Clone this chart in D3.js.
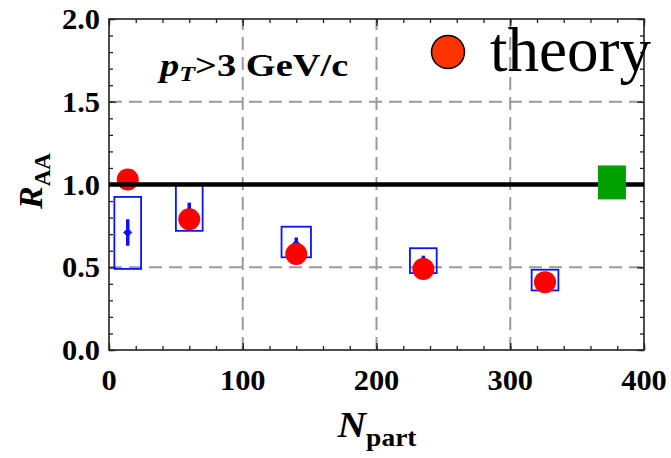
<!DOCTYPE html>
<html>
<head>
<meta charset="utf-8">
<script src="https://cdn.jsdelivr.net/npm/d3@7"></script>
<style>
  html, body { margin: 0; padding: 0; background: #fff; }
  svg { display: block; }
  text { font-family: "Liberation Serif", "Times New Roman", serif; }
</style>
</head>
<body>
<svg id="chart" width="671" height="458"></svg>
<script>
// Theory curve points (red circles)
const theoryNpart = [14, 60, 140, 235, 326];
const theoryRaa   = [1.03, 0.79, 0.58, 0.49, 0.41];

// Measured points: central value, statistical error
const dataNpart = [14, 60, 140, 235, 326];
const dataRaa   = [0.71, 0.84, 0.64, 0.54, 0.42];
const dataStat  = [0.08, 0.05, 0.04, 0.03, 0.03];

// Systematic boxes: Npart uncertainty and RAA range
const sysNpartErr = [10, 10, 11, 10, 10];
const sysLow  = [0.49, 0.72, 0.56, 0.465, 0.36];
const sysHigh = [0.925, 1.0, 0.745, 0.615, 0.485];

// Global normalisation uncertainty (green box)
const normNpart = [365.5, 386.5];
const normRaa   = [0.91, 1.115];

// Axis ticks
const xMajorTicks = [0, 100, 200, 300, 400];
const xTickLabels = ["0", "100", "200", "300", "400"];
const yMajorTicks = [0, 0.5, 1.0, 1.5, 2.0];
const yTickLabels = ["0.0", "0.5", "1.0", "1.5", "2.0"];
const xMinorTicks = d3.range(0, 401, 20);
const yMinorTicks = d3.range(0, 21, 1).map(d => d / 10);

const svg = d3.select("#chart");
const L = 109, R = 644, T = 19, B = 350;

const x = d3.scaleLinear().domain([0, 400]).range([L, R]);
const y = d3.scaleLinear().domain([0, 2]).range([B, T]);

// dashed grid
const grid = svg.append("g").attr("stroke", "#9a9a9a").attr("stroke-width", 2)
  .attr("stroke-dasharray", "13,7").attr("fill", "none");
grid.selectAll("line.v").data([100, 200, 300]).join("line")
  .attr("x1", d => x(d)).attr("x2", d => x(d)).attr("y1", y(0)).attr("y2", y(2));
grid.selectAll("line.h").data([0.5, 1.5]).join("line")
  .attr("y1", d => y(d)).attr("y2", d => y(d)).attr("x1", x(0)).attr("x2", x(400));

// ticks on all four sides, pointing inward
function ticks(axisFn, values, size, transform) {
  const g = svg.append("g").attr("transform", transform)
    .call(axisFn.tickValues(values).tickSize(-size).tickFormat(""));
  g.select(".domain").remove();
  g.selectAll(".tick line").attr("stroke", "#222").attr("stroke-width", 1.3);
  return g;
}
ticks(d3.axisBottom(x), xMinorTicks, 4, `translate(0,${B})`);
ticks(d3.axisBottom(x), xMajorTicks, 7, `translate(0,${B})`);
ticks(d3.axisTop(x), xMinorTicks, 4, `translate(0,${T})`);
ticks(d3.axisTop(x), xMajorTicks, 7, `translate(0,${T})`);
ticks(d3.axisLeft(y), yMinorTicks, 4, `translate(${L},0)`);
ticks(d3.axisLeft(y), yMajorTicks, 7, `translate(${L},0)`);
ticks(d3.axisRight(y), yMinorTicks, 4, `translate(${R},0)`);
ticks(d3.axisRight(y), yMajorTicks, 7, `translate(${R},0)`);

// frame
svg.append("rect").attr("x", L).attr("y", T).attr("width", R - L).attr("height", B - T)
  .attr("fill", "none").attr("stroke", "#222").attr("stroke-width", 1.6);

// tick labels
const sx = 1.05;
svg.append("g").selectAll("text").data(xMajorTicks).join("text")
  .attr("transform", d => `translate(${x(d)},390) scale(${sx},1)`)
  .attr("text-anchor", "middle").attr("font-weight", "bold").attr("font-size", 29)
  .text((d, i) => xTickLabels[i]);
svg.append("g").selectAll("text").data(yMajorTicks).join("text")
  .attr("transform", d => `translate(100,${y(d) + 10}) scale(${sx},1)`)
  .attr("text-anchor", "end").attr("font-weight", "bold").attr("font-size", 29)
  .text((d, i) => yTickLabels[i]);

// axis titles
const xt = svg.append("text").attr("transform", "translate(377,437) scale(1.1,1)")
  .attr("text-anchor", "middle").attr("font-weight", "bold").attr("font-size", 36);
xt.append("tspan").attr("font-style", "italic").text("N");
xt.append("tspan").attr("font-size", 25).attr("dy", 9).text("part");

const yt = svg.append("text").attr("transform", "translate(42,181) rotate(-90)")
  .attr("text-anchor", "middle").attr("font-weight", "bold").attr("font-size", 34);
yt.append("tspan").attr("font-style", "italic").text("R");
yt.append("tspan").attr("font-size", 23).attr("dy", 8).text("AA");

// systematic boxes
svg.append("g").selectAll("rect").data(dataNpart).join("rect")
  .attr("x", (d, i) => x(d - sysNpartErr[i]))
  .attr("width", (d, i) => x(d + sysNpartErr[i]) - x(d - sysNpartErr[i]))
  .attr("y", (d, i) => y(sysHigh[i]))
  .attr("height", (d, i) => y(sysLow[i]) - y(sysHigh[i]))
  .attr("fill", "none").attr("stroke", "#0a14ff").attr("stroke-width", 1.8);

// statistical error bars and markers
const pts = svg.append("g").attr("fill", "#0a14ff").attr("stroke", "#0a14ff");
pts.selectAll("line").data(dataNpart).join("line")
  .attr("x1", d => x(d)).attr("x2", d => x(d))
  .attr("y1", (d, i) => y(dataRaa[i] + dataStat[i]))
  .attr("y2", (d, i) => y(dataRaa[i] - dataStat[i]))
  .attr("stroke-width", 3.5);
pts.selectAll("path").data(dataNpart).join("path")
  .attr("d", (d, i) => {
    const cx = x(d), cy = y(dataRaa[i]);
    return `M${cx - 4},${cy} L${cx},${cy - 4} L${cx + 4},${cy} L${cx},${cy + 4} Z`;
  })
  .attr("stroke-width", 1);

// theory points
svg.append("g").selectAll("circle").data(theoryNpart).join("circle")
  .attr("cx", d => x(d)).attr("cy", (d, i) => y(theoryRaa[i])).attr("r", 11)
  .attr("fill", "#ff0000");

// unity line
svg.append("line").attr("x1", x(0)).attr("x2", x(400)).attr("y1", y(1)).attr("y2", y(1))
  .attr("stroke", "#000").attr("stroke-width", 4.5);

// normalisation uncertainty
svg.append("rect").attr("x", x(normNpart[0])).attr("width", x(normNpart[1]) - x(normNpart[0]))
  .attr("y", y(normRaa[1])).attr("height", y(normRaa[0]) - y(normRaa[1]))
  .attr("fill", "#00a000");

// kinematic cut label
const pt = svg.append("text").attr("transform", "translate(160,76) scale(1.24,1)")
  .attr("font-weight", "bold").attr("font-size", 31);
pt.append("tspan").attr("font-style", "italic").text("p");
pt.append("tspan").attr("font-style", "italic").attr("font-size", 21).attr("dy", 5).text("T");
pt.append("tspan").attr("dy", -5).text(">3 GeV/c");

// legend
svg.append("circle").attr("cx", 448).attr("cy", 52).attr("r", 16.5)
  .attr("fill", "#ff3300").attr("stroke", "#000").attr("stroke-width", 1.5);
svg.append("text").attr("x", 490).attr("y", 71).attr("font-size", 63).text("theory");
</script>
</body>
</html>
